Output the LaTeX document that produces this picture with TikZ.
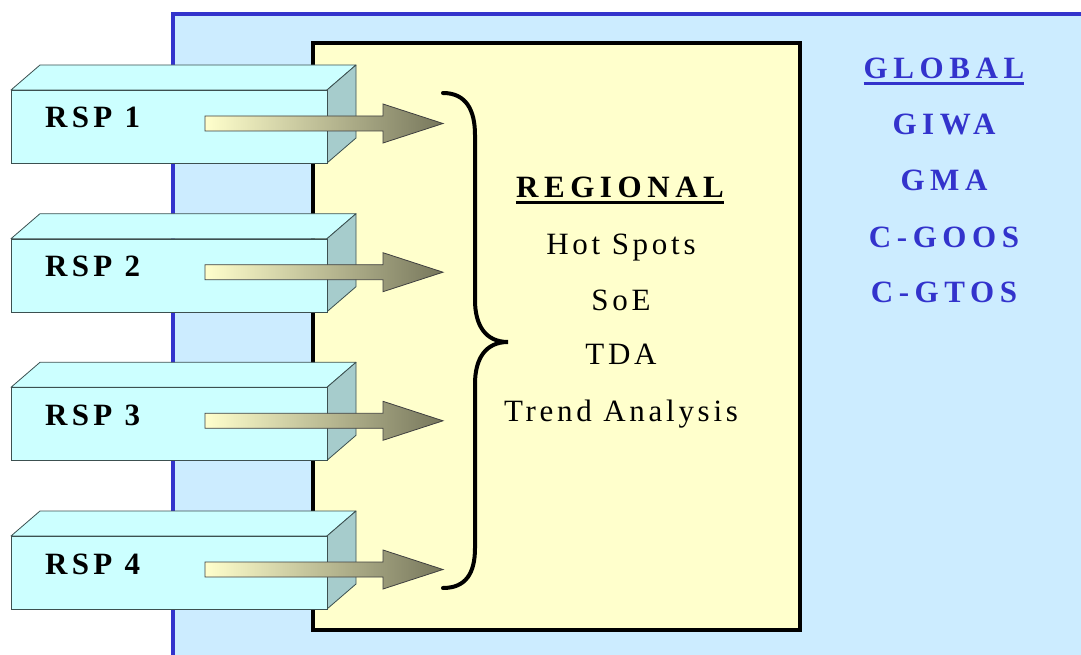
\documentclass[tikz,border=0pt]{standalone}
\usepackage{fontspec}
\setmainfont{Liberation Serif}
\newfontfamily\wideB[LetterSpace=18]{Liberation Serif}
\newfontfamily\wideR[LetterSpace=12]{Liberation Serif}
\newfontfamily\wideS[LetterSpace=14]{Liberation Serif}
\definecolor{bgblue}{RGB}{204,236,255}
\definecolor{edgeblue}{RGB}{51,51,204}
\definecolor{paleyellow}{RGB}{255,255,204}
\definecolor{cyanface}{RGB}{204,255,255}
\definecolor{sideface}{RGB}{166,204,204}
\definecolor{arrowdark}{RGB}{119,119,92}
\definecolor{boxedge}{RGB}{60,80,80}
\tikzset{
  bluepanel/.style={fill=bgblue},
  blueedge/.style={draw=edgeblue,line width=3.2pt},
  yellowpanel/.style={fill=paleyellow,draw=black,line width=3.5pt},
  boxface/.style={fill=cyanface,draw=boxedge,line width=0.8pt},
  boxside/.style={fill=sideface,draw=boxedge,line width=0.8pt,line join=round},
  frontface/.style={boxface,rectangle,inner sep=0pt,minimum width=316pt,minimum height=73pt},
  rsptext/.style={inner sep=0pt,font=\fontsize{31}{36}\selectfont\wideS\bfseries},
  fatarrow/.style={draw=black!75,line width=0.8pt,left color=paleyellow,right color=arrowdark},
  bracestyle/.style={draw=black,line width=4pt,line cap=round},
  regtitle/.style={inner sep=0pt,font=\fontsize{31}{36}\selectfont\wideB\bfseries},
  regitem/.style={inner sep=0pt,font=\fontsize{31}{36}\selectfont\wideR},
  globtext/.style={inner sep=0pt,text=edgeblue,font=\fontsize{31}{36}\selectfont\wideB\bfseries},
}
\begin{document}
\begin{tikzpicture}[x=1pt,y=-1pt]
\useasboundingbox (0,0) rectangle (1081,655);
\clip (0,0) rectangle (1081,655);
% outer blue panel
\fill[bluepanel] (173,14) rectangle (1095,670);
\draw[blueedge] (173,670) -- (173,14) -- (1095,14);
% yellow regional panel
\draw[yellowpanel] (313,43) rectangle (800,630);
% RSP boxes and arrows
\foreach \i/\y in {1/90,2/238.7,3/387.3,4/536}{
  \draw[boxface,line join=round] (11,\y) -- (40,\y-25) -- (356,\y-25) -- (327,\y) -- cycle;
  \draw[boxside] (327,\y) -- (356,\y-25) -- (356,\y+48) -- (327,\y+73) -- cycle;
  \node[frontface,anchor=north west] (rsp\i) at (11,\y) {};
  \node[rsptext,anchor=base west] (lab\i) at (45,\y+38) {RSP \i};
  \draw[fatarrow] (205,\y+26) -- (383,\y+26) -- (383,\y+14) -- (443,\y+33.5)
     -- (383,\y+53) -- (383,\y+41) -- (205,\y+41) -- cycle;
}
% brace
\draw[bracestyle] (443,93) .. controls (466,93) and (475,110) .. (475,135)
  -- (475,300) .. controls (475,326) and (486,342) .. (508,342)
  .. controls (486,342) and (475,358) .. (475,384)
  -- (475,548) .. controls (475,573) and (466,588) .. (443,588);
% regional texts
\node[regtitle,anchor=base] (reg) at (620,198) {REGIONAL};
\draw[line width=3pt] ([yshift=-5pt]reg.base west) -- ([yshift=-5pt]reg.base east);
\node[regitem,anchor=base] (hot) at (621,254) {Hot Spots};
\node[regitem,anchor=base] (soe) at (621,310) {SoE};
\node[regitem,anchor=base] (tda) at (621,364) {TDA};
\node[regitem,anchor=base] (trend) at (621,421) {Trend Analysis};
% global texts
\node[globtext,anchor=base] (glob) at (944,79) {GLOBAL};
\draw[edgeblue,line width=3pt] ([yshift=-4.5pt]glob.base west) -- ([yshift=-4.5pt]glob.base east);
\node[globtext,anchor=base] (giwa) at (944,135) {GIWA};
\node[globtext,anchor=base] (gma) at (944,191) {GMA};
\node[globtext,anchor=base] (goos) at (944,247) {C-GOOS};
\node[globtext,anchor=base] (gtos) at (944,302) {C-GTOS};
\end{tikzpicture}
\end{document}
